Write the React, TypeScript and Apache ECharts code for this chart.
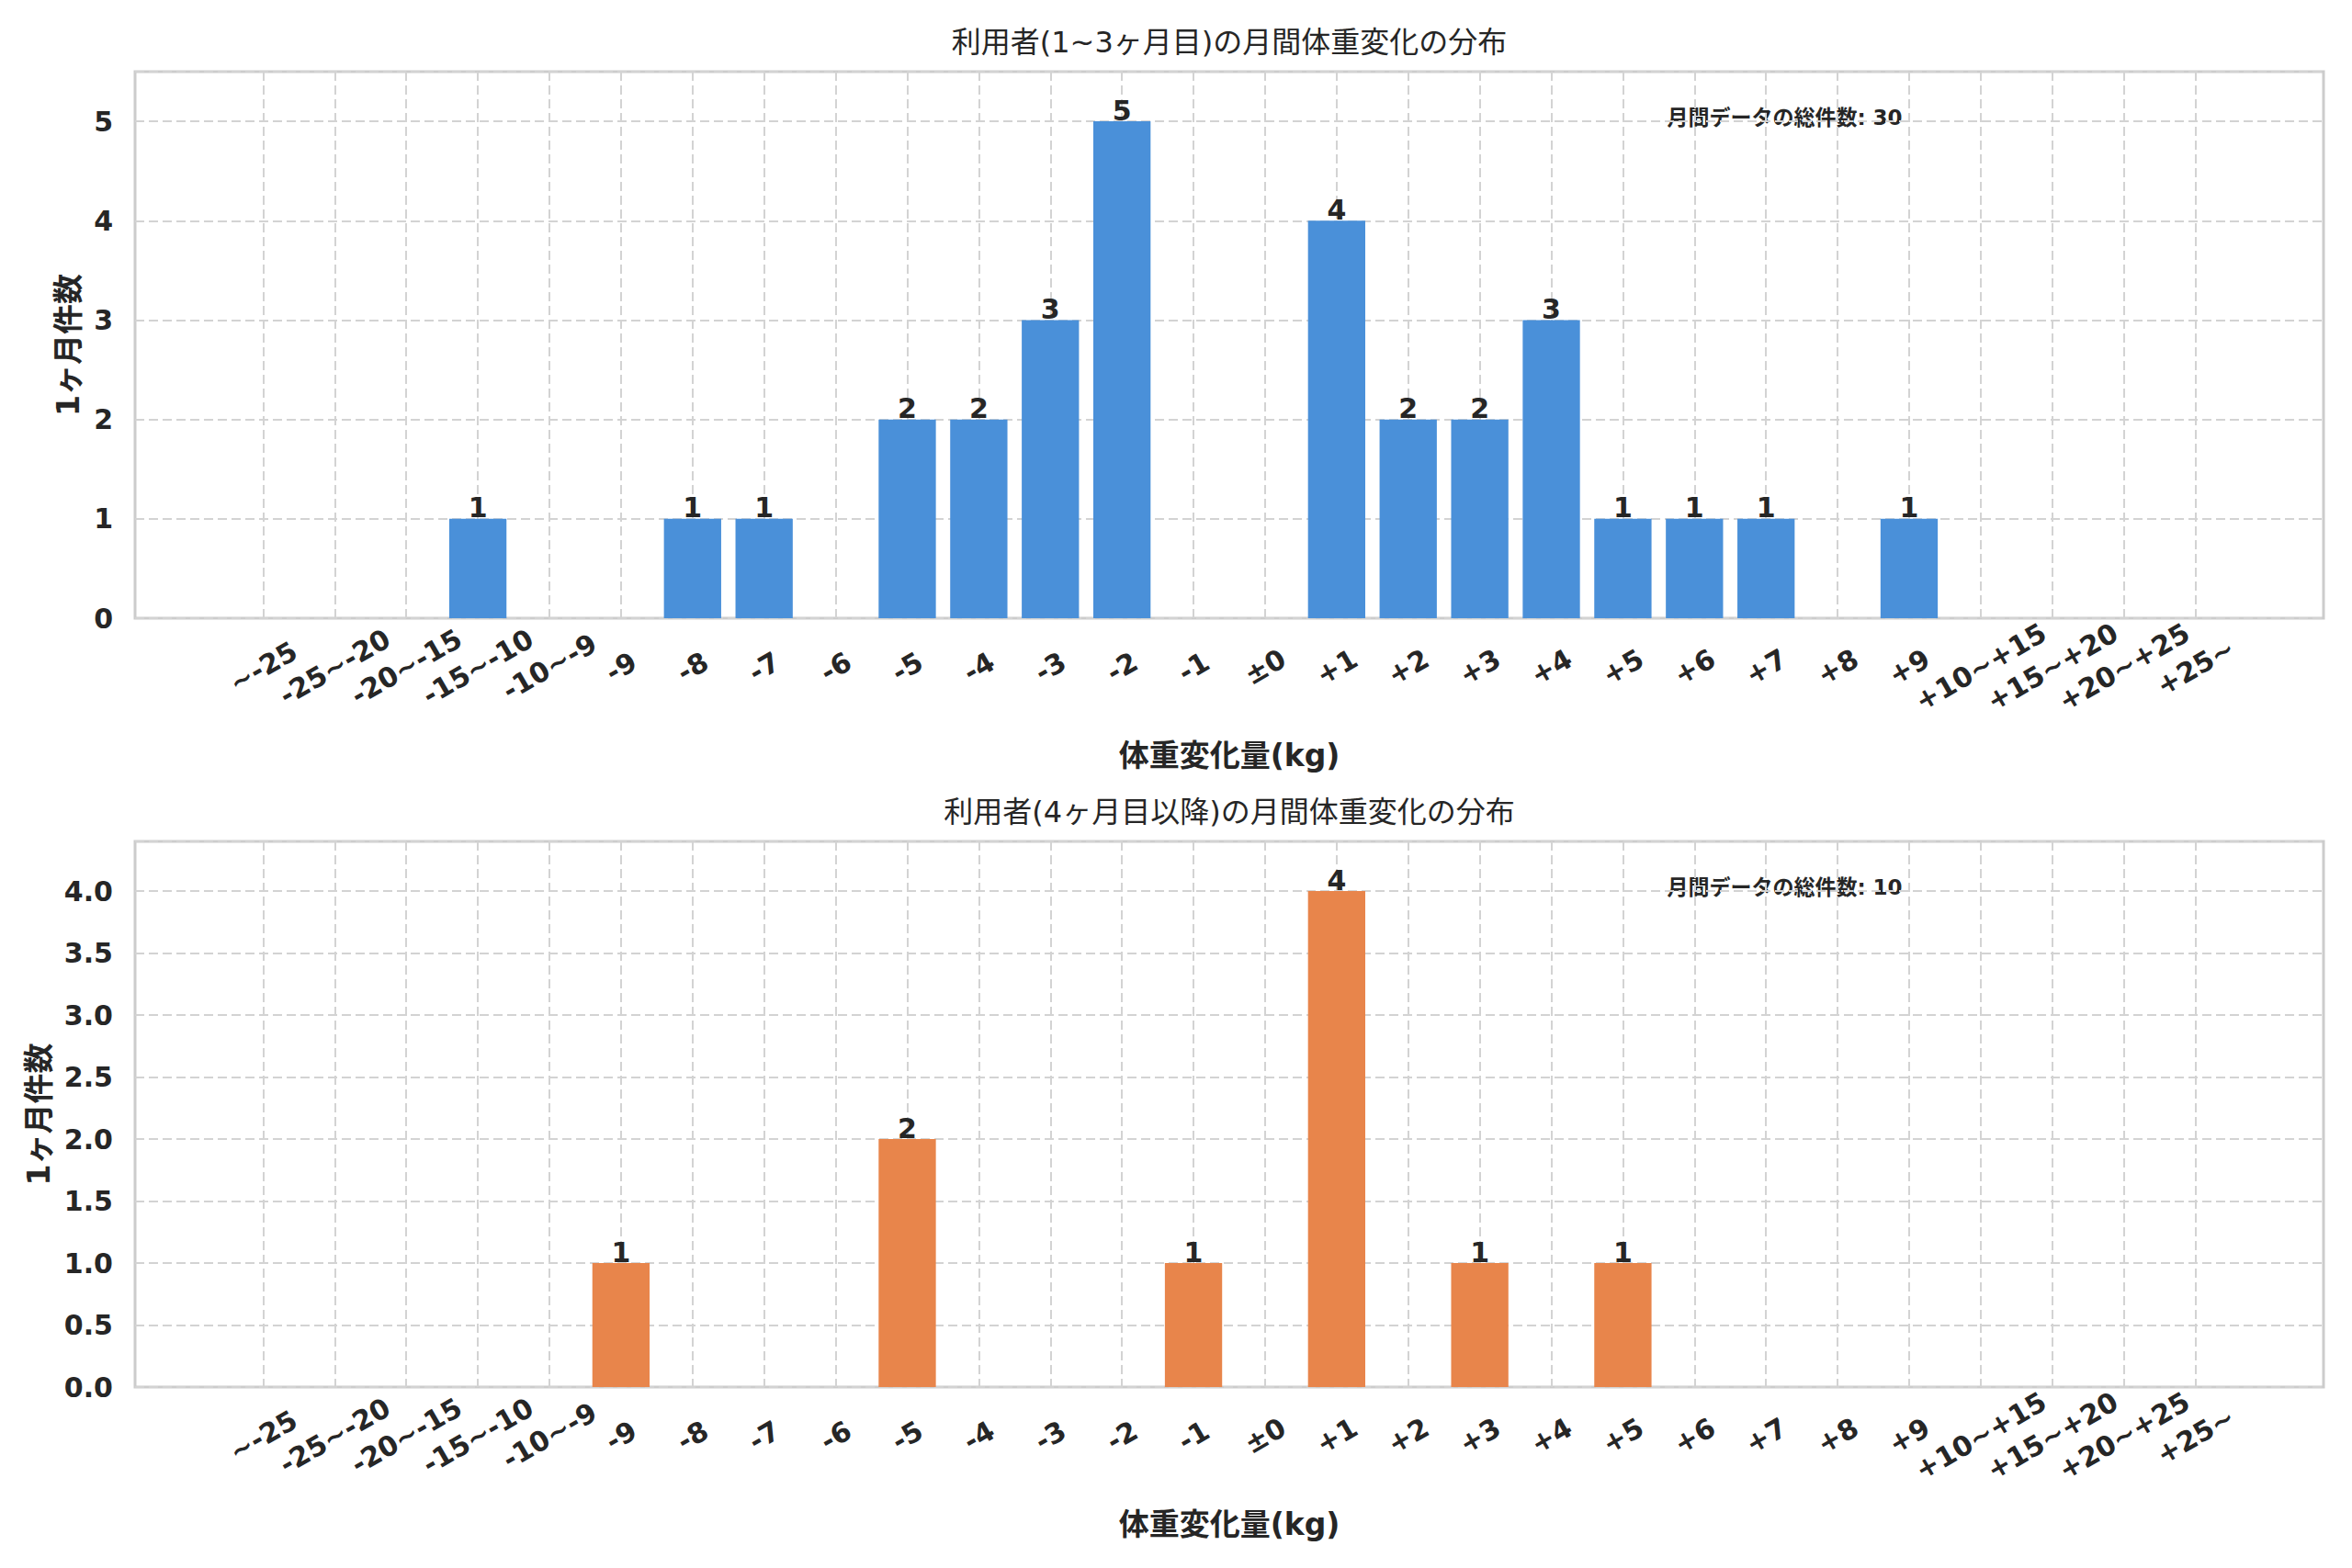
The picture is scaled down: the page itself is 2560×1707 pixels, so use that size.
import { useEffect, useRef } from "react";
import * as echarts from "echarts";

// 体重変化量のビン（横軸カテゴリ）
const categories = [
  "~-25", "-25~-20", "-20~-15", "-15~-10", "-10~-9", "-9", "-8", "-7", "-6",
  "-5", "-4", "-3", "-2", "-1", "±0", "+1", "+2", "+3", "+4", "+5", "+6",
  "+7", "+8", "+9", "+10~+15", "+15~+20", "+20~+25", "+25~",
];

// 1~3ヶ月目
const earlyCounts = [
  0, 0, 0, 1, 0, 0, 1, 1, 0, 2, 2, 3, 5, 0, 0, 4, 2, 2, 3, 1, 1, 1, 0, 1, 0, 0, 0, 0,
];
// 4ヶ月目以降
const lateCounts = [
  0, 0, 0, 0, 0, 1, 0, 0, 0, 2, 0, 0, 0, 1, 0, 4, 0, 1, 0, 1, 0, 0, 0, 0, 0, 0, 0, 0,
];

const panelTitles = [
  "利用者(1~3ヶ月目)の月間体重変化の分布",
  "利用者(4ヶ月目以降)の月間体重変化の分布",
];
const panelColors = ["#4A90D9", "#E8854B"];
const yTickSteps = [1, 0.5];
const yTickDigits = [0, 1];

const X_NAME = "体重変化量(kg)";
const Y_NAME = "1ヶ月件数";
const NOTE_LABEL = "月間データの総件数";

const FONT = '"DejaVu Sans", "Noto Sans CJK JP", sans-serif';
const TEXT = "#262626";

// layout (px)
const FRAME_L = 147;
const FRAME_R = 2529;
const X_PAD = 1.79; // matplotlib margin in category steps
const STEP = (FRAME_R - FRAME_L) / (categories.length - 1 + 2 * X_PAD);
const INNER_L = FRAME_L + X_PAD * STEP;
const INNER_R = FRAME_R - X_PAD * STEP;

const LAYOUT = [
  { top: 78, bottom: 673, titleY: 30, noteY: 116, yNameGap: 52 },
  { top: 916, bottom: 1510, titleY: 868, noteY: 954, yNameGap: 82 },
];

const gridLine = { color: "#d3d3d3", width: 2, type: [10, 5] as number[] };

function buildOption() {
  const seriesData = [earlyCounts, lateCounts];
  const grid: any[] = [];
  const xAxis: any[] = [];
  const yAxis: any[] = [];
  const series: any[] = [];
  const title: any[] = [];
  const graphic: any[] = [];

  seriesData.forEach((counts, i) => {
    const lay = LAYOUT[i];
    const height = lay.bottom - lay.top;
    const yMax = Math.max(...counts) * 1.1;
    const step = yTickSteps[i];
    const digits = yTickDigits[i];
    const outer = i * 2;
    const inner = i * 2 + 1;

    grid.push(
      {
        left: FRAME_L,
        width: FRAME_R - FRAME_L,
        top: lay.top,
        height,
        show: true,
        borderColor: "#cccccc",
        borderWidth: 3,
        backgroundColor: "transparent",
      },
      { left: INNER_L, width: INNER_R - INNER_L, top: lay.top, height }
    );

    xAxis.push(
      { gridIndex: outer, type: "value", min: 0, max: 1, show: false },
      {
        gridIndex: inner,
        type: "category",
        data: categories,
        boundaryGap: false,
        axisLine: { show: false },
        axisTick: { show: false },
        splitLine: { show: true, lineStyle: gridLine },
        axisLabel: {
          interval: 0,
          rotate: 30,
          align: "center",
          verticalAlign: "middle",
          margin: 53,
          fontSize: 30,
          fontWeight: "bold",
          color: TEXT,
          fontFamily: FONT,
        },
        name: X_NAME,
        nameLocation: "middle",
        nameGap: 133,
        nameTextStyle: { fontSize: 33, fontWeight: "bold", color: TEXT, fontFamily: FONT },
      }
    );

    yAxis.push(
      {
        gridIndex: outer,
        type: "value",
        min: 0,
        max: yMax,
        interval: step,
        axisLine: { show: false },
        axisTick: { show: false },
        splitLine: { show: true, lineStyle: gridLine },
        axisLabel: {
          margin: 24,
          fontSize: 30,
          fontWeight: "bold",
          color: TEXT,
          fontFamily: FONT,
          formatter: (v: number) => {
            const k = v / step;
            return Math.abs(k - Math.round(k)) < 1e-6 ? v.toFixed(digits) : "";
          },
        },
        name: Y_NAME,
        nameLocation: "middle",
        nameGap: lay.yNameGap,
        nameTextStyle: { fontSize: 33, fontWeight: "bold", color: TEXT, fontFamily: FONT },
      },
      { gridIndex: inner, type: "value", min: 0, max: yMax, show: false }
    );

    series.push({
      type: "bar",
      xAxisIndex: inner,
      yAxisIndex: inner,
      data: counts,
      barWidth: "80%",
      itemStyle: { color: panelColors[i] },
      label: {
        show: true,
        position: "top",
        distance: -3,
        formatter: (p: any) => (p.value ? String(p.value) : ""),
        fontSize: 30,
        fontWeight: "bold",
        color: TEXT,
        fontFamily: FONT,
      },
    });

    title.push({
      text: panelTitles[i],
      left: (FRAME_L + FRAME_R) / 2,
      top: lay.titleY,
      textAlign: "center",
      textVerticalAlign: "top",
      padding: 0,
      textStyle: { fontSize: 32, fontWeight: "normal", color: TEXT, fontFamily: FONT },
    });

    const total = counts.reduce((a, b) => a + b, 0);
    graphic.push({
      type: "text",
      left: FRAME_L + 0.7 * (FRAME_R - FRAME_L),
      top: lay.noteY,
      style: {
        text: `${NOTE_LABEL}: ${total}`,
        fontSize: 23,
        fontWeight: "bold",
        fill: TEXT,
        fontFamily: FONT,
      },
    });
  });

  return {
    animation: false,
    backgroundColor: "#ffffff",
    textStyle: { fontFamily: FONT },
    title,
    grid,
    xAxis,
    yAxis,
    series,
    graphic,
  };
}

export default function App() {
  const ref = useRef<HTMLDivElement>(null);

  useEffect(() => {
    if (!ref.current) return;
    document.body.style.margin = "0";
    const chart = echarts.init(ref.current, undefined, { renderer: "svg" });
    chart.setOption(buildOption());
    return () => {
      chart.dispose();
    };
  }, []);

  return (
    <div
      ref={ref}
      style={{ position: "absolute", left: 0, top: 0, width: 2560, height: 1707 }}
    />
  );
}
